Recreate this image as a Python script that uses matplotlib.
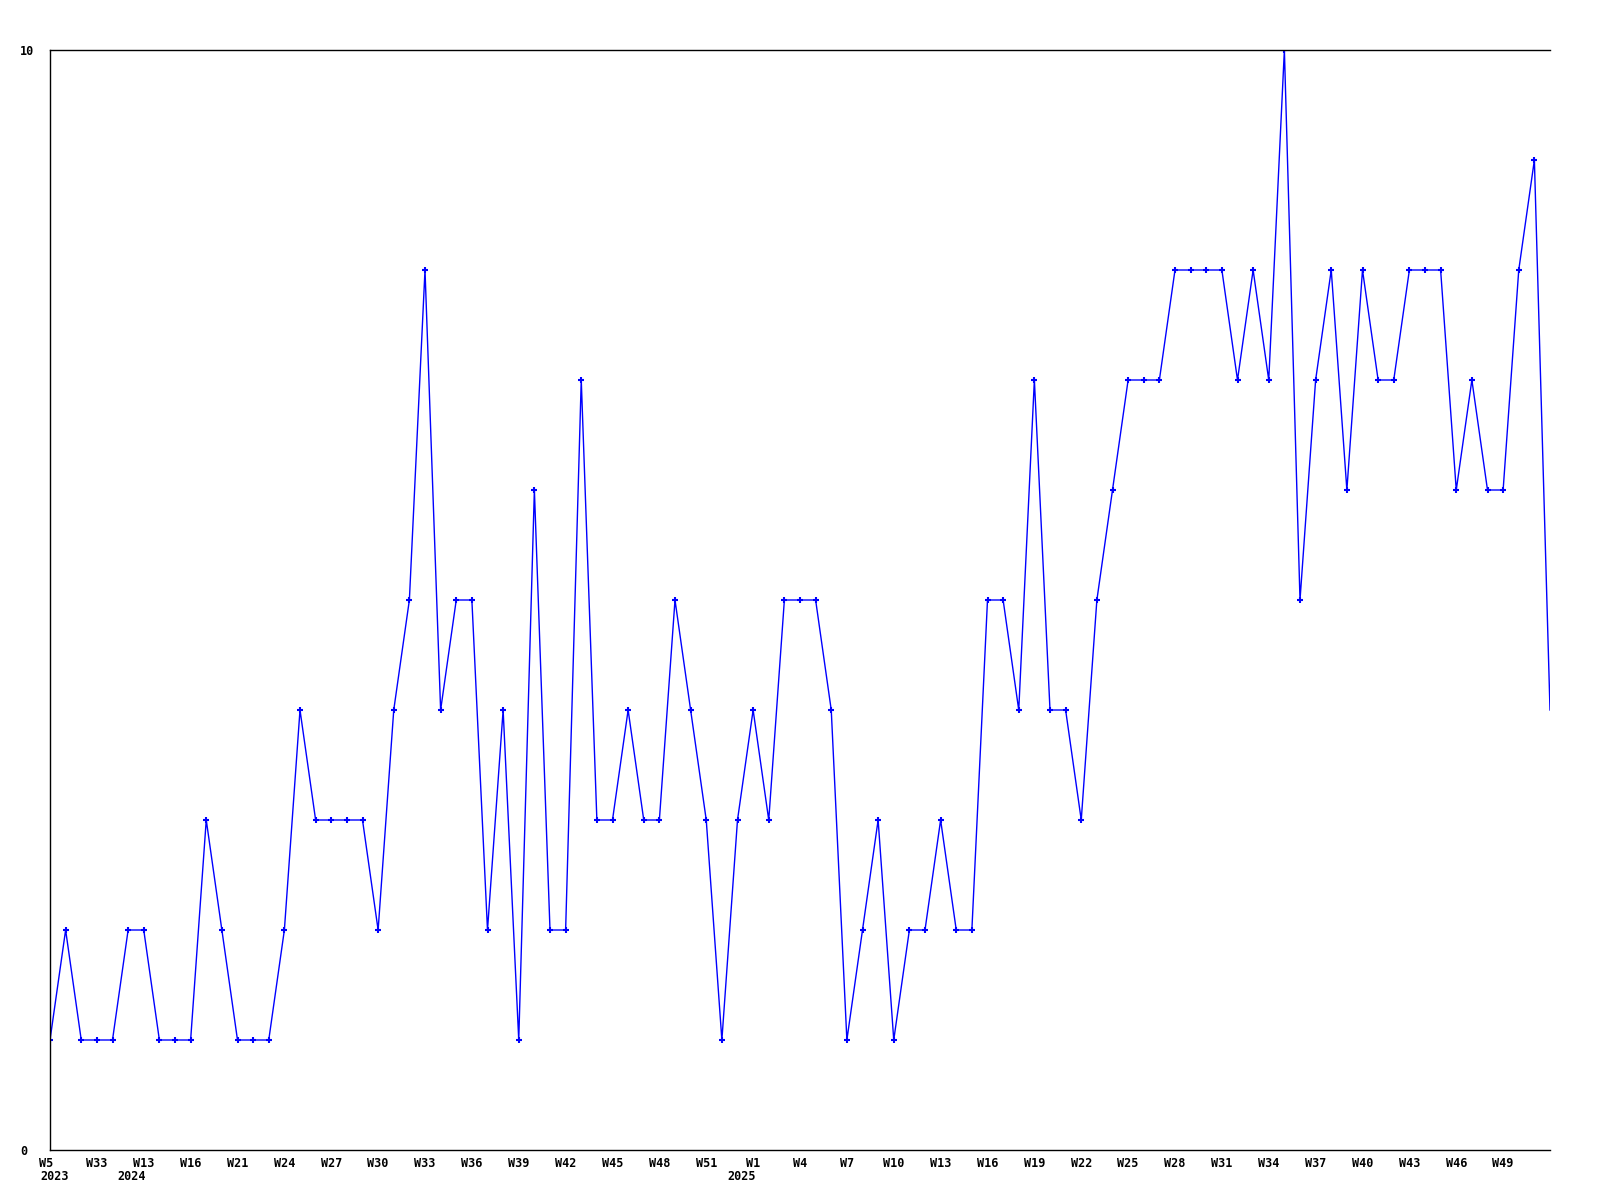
import numpy as np
import matplotlib.pyplot as plt
from matplotlib import transforms

# weekly counts, one per point
values = [1, 2, 1, 1, 1, 2, 2, 1, 1, 1, 3, 2, 1, 1, 1, 2, 4, 3, 3, 3,
          3, 2, 4, 5, 8, 4, 5, 5, 2, 4, 1, 6, 2, 2, 7, 3, 3, 4, 3, 3,
          5, 4, 3, 1, 3, 4, 3, 5, 5, 5, 4, 1, 2, 3, 1, 2, 2, 3, 2, 2,
          5, 5, 4, 7, 4, 4, 3, 5, 6, 7, 7, 7, 8, 8, 8, 8, 7, 8, 7, 10,
          5, 7, 8, 6, 8, 7, 7, 8, 8, 8, 6, 7, 6, 6, 8, 9, 4]

week_labels = ['W5', 'W33', 'W13', 'W16', 'W21', 'W24', 'W27', 'W30', 'W33',
               'W36', 'W39', 'W42', 'W45', 'W48', 'W51', 'W1', 'W4', 'W7',
               'W10', 'W13', 'W16', 'W19', 'W22', 'W25', 'W28', 'W31', 'W34',
               'W37', 'W40', 'W43', 'W46', 'W49']
label_step = 3

years = ['2023', '2024', '2025']
year_idx = [0, 6, 45]

x = np.arange(len(values))

fig = plt.figure(figsize=(16, 12), dpi=100)
ax = fig.add_axes([50 / 1600, 50 / 1200, 1500 / 1600, 1100 / 1200])

# all points but the last get a marker
ax.plot(x, values, color='#0000ff', linewidth=1.0)
ax.plot(x[:-1], values[:-1], linestyle='none', marker='+', color='#0000ff',
        markersize=4, markeredgewidth=1.5)

ax.set_xlim(0, len(values) - 1)
ax.set_ylim(0, 10)

ax.spines['right'].set_visible(False)
for s in ['left', 'top', 'bottom']:
    ax.spines[s].set_linewidth(1.0)
    ax.spines[s].set_color('black')

font = dict(family='DejaVu Sans Mono', fontweight='bold', fontsize=8.5)

ax.set_yticks([0, 10])
ax.set_yticklabels(['0', '10'], ha='left', **font)
ax.tick_params(axis='y', length=0, pad=21.5)

ticks = np.arange(0, len(values), label_step)[:len(week_labels)]
ax.set_xticks(ticks)
ax.set_xticklabels(week_labels, **font)
ax.tick_params(axis='x', length=0, pad=5)

# first label sits a little left of its point
first = ax.get_xticklabels()[0]
first.set_transform(first.get_transform() +
                    transforms.ScaledTranslation(-4 / 100, 0, fig.dpi_scale_trans))

trans = transforms.blended_transform_factory(ax.transData, ax.transAxes)
for yr, i in zip(years, year_idx):
    if i == 0:
        off = transforms.offset_copy(trans, fig=fig, x=-10, y=-26, units='dots')
        ax.text(i, 0, yr, transform=off, ha='left', va='center', **font)
    else:
        off = transforms.offset_copy(trans, fig=fig, x=-12, y=-26, units='dots')
        ax.text(i, 0, yr, transform=off, ha='center', va='center', **font)

fig.savefig('out.png', dpi=100, facecolor='white')
